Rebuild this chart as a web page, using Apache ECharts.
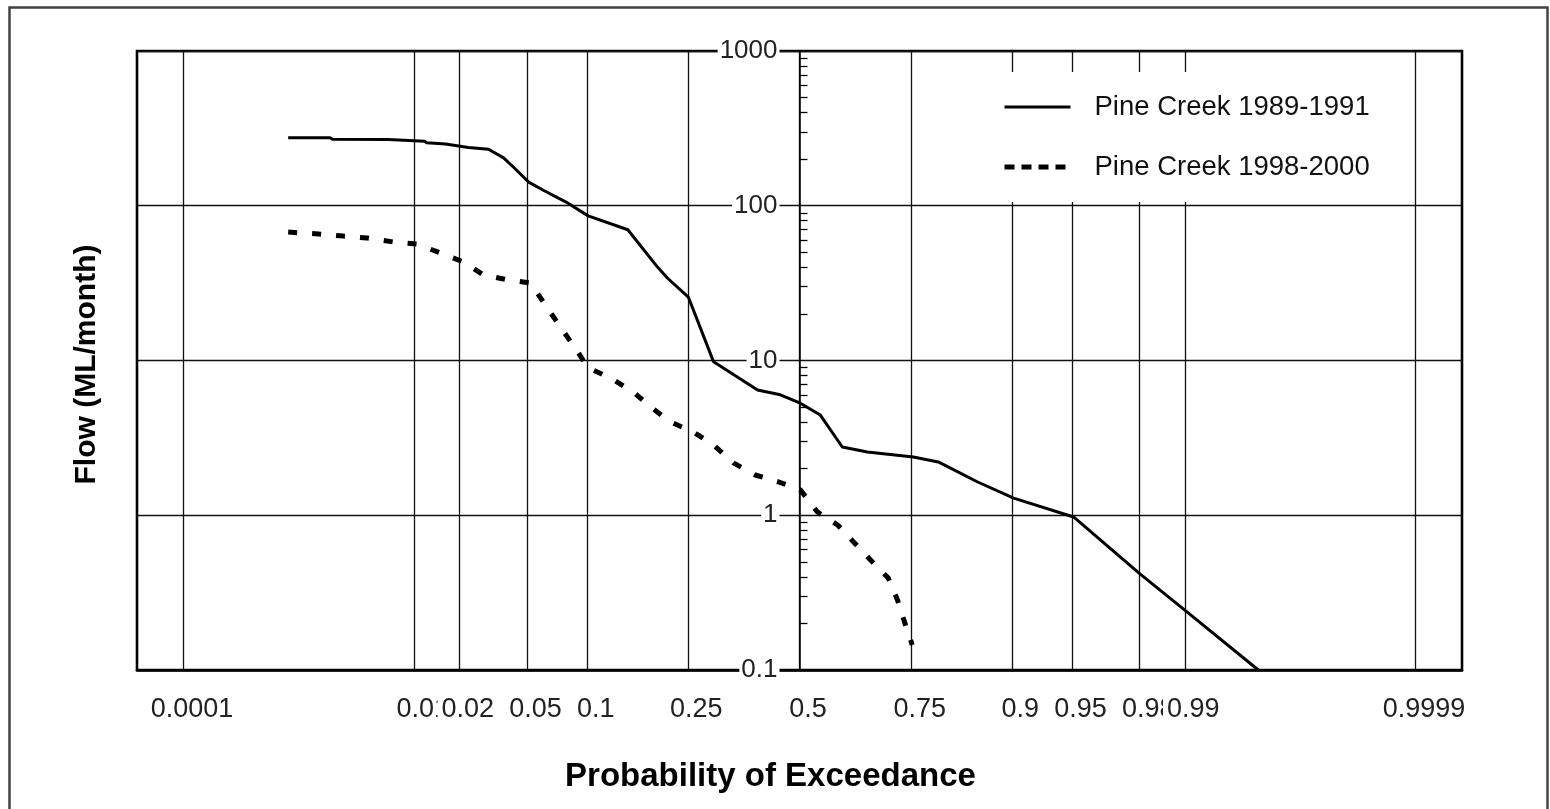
<!DOCTYPE html>
<html>
<head>
<meta charset="utf-8">
<script src="https://cdn.jsdelivr.net/npm/echarts@6/dist/echarts.min.js"></script>
<style>
html, body { margin: 0; padding: 0; background: #fff; }
#graph { width: 1550px; height: 809px; }
</style>
</head>
<body>
<div id="graph"></div>
<script>
// exceedance probabilities on the x axis (drawn on a normal probability scale)
var probTicks = [0.0001, 0.01, 0.02, 0.05, 0.1, 0.25, 0.5, 0.75, 0.9, 0.95, 0.98, 0.99, 0.9999];
var flowTicks = [0.1, 1, 10, 100, 1000];

var names = ['Pine Creek 1989-1991', 'Pine Creek 1998-2000'];

var probs8991 = [0.00101, 0.0023, 0.0024, 0.0065, 0.0067, 0.0118, 0.0122, 0.0163, 0.0228, 0.0302, 0.037, 0.042, 0.051, 0.061, 0.079, 0.101, 0.150, 0.196, 0.213, 0.251, 0.302, 0.400, 0.454, 0.502, 0.550, 0.602, 0.659, 0.754, 0.799, 0.859, 0.902, 0.951, 0.980, 0.990, 0.9972];
var flows8991 = [275, 275, 269, 268, 262, 261, 255, 251, 238, 232, 204, 178, 142, 126, 106, 86, 70, 40, 34, 25.7, 9.8, 6.45, 6.0, 5.3, 4.44, 2.76, 2.56, 2.38, 2.21, 1.64, 1.29, 0.975, 0.42, 0.244, 0.1];

var probs9800 = [0.00101, 0.00184, 0.00294, 0.00454, 0.0071, 0.0105, 0.0151, 0.0212, 0.0282, 0.0395, 0.0522, 0.0625, 0.0745, 0.088, 0.101, 0.127, 0.158, 0.184, 0.218, 0.261, 0.302, 0.345, 0.395, 0.450, 0.502, 0.543, 0.591, 0.628, 0.666, 0.704, 0.723, 0.739, 0.752];
var flows9800 = [67.6, 65.7, 63.7, 61.9, 58.3, 56.5, 49.5, 43.3, 35.7, 33.1, 31.7, 22.8, 16.4, 12.0, 8.95, 7.71, 6.26, 5.01, 4.01, 3.45, 2.84, 2.18, 1.82, 1.64, 1.46, 1.05, 0.865, 0.672, 0.514, 0.393, 0.283, 0.195, 0.145];

// inverse of the standard normal cdf (Acklam)
function probit(p) {
    var a = [-39.69683028665376, 220.9460984245205, -275.9285104469687, 138.3577518672690, -30.66479806614716, 2.506628277459239];
    var b = [-54.47609879822406, 161.5858368580409, -155.6989798598866, 66.80131188771972, -13.28068155288572];
    var c = [-0.007784894002430293, -0.3223964580411365, -2.400758277161838, -2.549732539343734, 4.374664141464968, 2.938163982698783];
    var d = [0.007784695709041462, 0.3224671290700398, 2.445134137142996, 3.754408661907416];
    var q, r;
    if (p < 0.02425) {
        q = Math.sqrt(-2 * Math.log(p));
        return (((((c[0]*q+c[1])*q+c[2])*q+c[3])*q+c[4])*q+c[5]) / ((((d[0]*q+d[1])*q+d[2])*q+d[3])*q+1);
    }
    if (p > 1 - 0.02425) {
        q = Math.sqrt(-2 * Math.log(1 - p));
        return -(((((c[0]*q+c[1])*q+c[2])*q+c[3])*q+c[4])*q+c[5]) / ((((d[0]*q+d[1])*q+d[2])*q+d[3])*q+1);
    }
    q = p - 0.5;
    r = q * q;
    return (((((a[0]*r+a[1])*r+a[2])*r+a[3])*r+a[4])*r+a[5])*q / (((((b[0]*r+b[1])*r+b[2])*r+b[3])*r+b[4])*r+1);
}

function toPoints(ps, fs) {
    var out = [];
    for (var i = 0; i < ps.length; i++) {
        out.push([probit(ps[i]), fs[i]]);
    }
    return out;
}

var tickZ = probTicks.map(probit);

// minor ticks 2..9 of every decade
var minorTicks = [];
for (var e = 0; e < flowTicks.length - 1; e++) {
    for (var k = 2; k <= 9; k++) {
        minorTicks.push(flowTicks[e] * k);
    }
}

var FONT = '"Liberation Sans", Arial, Helvetica, sans-serif';

var GRID_LEFT = 137, GRID_RIGHT = 88;
// the value axis crosses at p = 0.5, the middle of the symmetric x range
var midOffset = -(1550 - GRID_LEFT - GRID_RIGHT) / 2;

var myChart = echarts.init(document.getElementById('graph'));

var option = {
    backgroundColor: '#fff',
    animation: false,
    textStyle: { fontFamily: FONT },
    graphic: [{
        type: 'rect',
        shape: { x: 9.5, y: 7.5, width: 1538, height: 830 },
        style: { fill: 'none', stroke: '#444', lineWidth: 2.5 },
        silent: true,
        z: -10
    }],
    grid: {
        left: GRID_LEFT,
        right: GRID_RIGHT,
        top: 51,
        bottom: 139,
        containLabel: false,
        outerBoundsMode: 'none',
        show: true,
        borderColor: '#000',
        borderWidth: 2.6
    },
    legend: {
        orient: 'vertical',
        left: 990,
        top: 72,
        padding: [20, 30, 20, 12],
        backgroundColor: '#fff',
        itemWidth: 66,
        itemHeight: 14,
        itemGap: 30,
        textStyle: {
            fontFamily: FONT,
            fontSize: 27.5,
            color: '#111',
            lineHeight: 30,
            padding: [0, 0, 0, 19]
        },
        data: [
            { name: names[0], itemStyle: { opacity: 0 }, lineStyle: { color: '#000', width: 3, type: 'solid' } },
            { name: names[1], itemStyle: { opacity: 0 }, lineStyle: { color: '#000', width: 5, type: [10, 7] } }
        ]
    },
    xAxis: {
        type: 'value',
        min: -4,
        max: 4,
        name: 'Probability of Exceedance',
        nameLocation: 'middle',
        nameGap: 90,
        nameTextStyle: {
            fontFamily: FONT,
            fontSize: 33,
            fontWeight: 'bold',
            color: '#000',
            padding: [0, 58, 0, 0]
        },
        axisLine: { onZero: false, show: true, lineStyle: { color: '#000', width: 2.6 } },
        axisTick: { show: false, customValues: tickZ },
        axisLabel: {
            customValues: tickZ,
            margin: 26,
            padding: [0, 0, 0, 14],
            rich: {
                t: {
                    fontFamily: FONT,
                    fontSize: 27,
                    color: '#222',
                    backgroundColor: '#fff',
                    padding: [0, 1, 0, 4]
                }
            },
            formatter: function (v) {
                var best = 0;
                for (var i = 1; i < tickZ.length; i++) {
                    if (Math.abs(tickZ[i] - v) < Math.abs(tickZ[best] - v)) best = i;
                }
                return '{t|' + probTicks[best] + '}';
            }
        },
        splitLine: { show: true, lineStyle: { color: '#111', width: 1.3 } }
    },
    yAxis: [{
        // frame side: grid lines and axis title
        type: 'log',
        logBase: 10,
        min: 0.1,
        max: 1000,
        position: 'left',
        name: 'Flow (ML/month)',
        nameLocation: 'middle',
        nameGap: 35,
        nameRotate: 90,
        nameTextStyle: {
            fontFamily: FONT,
            fontSize: 30,
            fontWeight: 'bold',
            color: '#000',
            padding: [0, 8, 0, 0]
        },
        axisLine: { show: false, onZero: false },
        axisTick: { show: false },
        axisLabel: { show: false },
        splitLine: { show: true, lineStyle: { color: '#111', width: 1.3 } }
    }, {
        // axis drawn through p = 0.5 with labels and minor ticks
        type: 'log',
        logBase: 10,
        min: 0.1,
        max: 1000,
        position: 'left',
        offset: midOffset,
        axisLine: { show: true, onZero: false, lineStyle: { color: '#000', width: 1.5 } },
        splitLine: { show: false },
        axisTick: {
            show: true,
            inside: true,
            length: 8,
            customValues: minorTicks,
            lineStyle: { color: '#000', width: 1.3 }
        },
        axisLabel: {
            customValues: flowTicks,
            fontFamily: FONT,
            fontSize: 26,
            color: '#222',
            margin: 20,
            backgroundColor: '#fff',
            padding: [0, 2, 0, 2],
            formatter: function (v) {
                return String(v);
            }
        }
    }],
    series: [{
        name: names[0],
        type: 'line',
        showSymbol: false,
        symbol: 'none',
        lineStyle: { color: '#000', width: 3, type: 'solid' },
        itemStyle: { color: '#000' },
        data: toPoints(probs8991, flows8991)
    }, {
        name: names[1],
        type: 'line',
        showSymbol: false,
        symbol: 'none',
        lineStyle: { color: '#000', width: 5, type: [9, 15] },
        itemStyle: { color: '#000' },
        data: toPoints(probs9800, flows9800)
    }]
};

myChart.setOption(option);
</script>
</body>
</html>
